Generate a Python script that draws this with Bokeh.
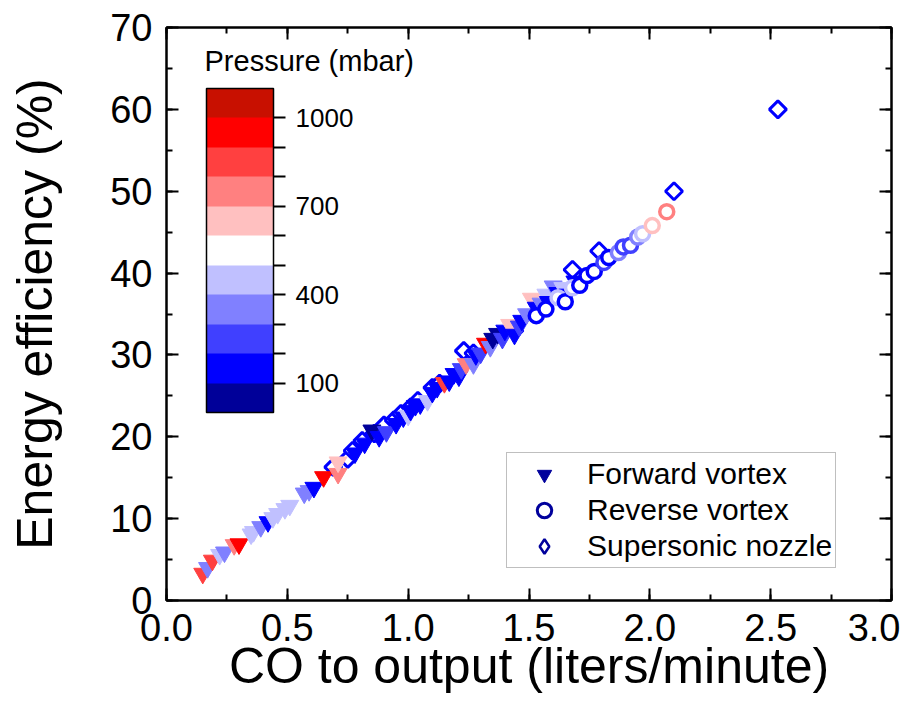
import math
from bokeh.plotting import figure
from bokeh.models import (ColumnDataSource, LinearColorMapper, ColorBar, Range1d,
                          SingleIntervalTicker, FixedTicker, LinearAxis, Legend, LegendItem,
                          NumeralTickFormatter, CustomJSTickFormatter, Label)
from bokeh.transform import transform
from bokeh.embed import file_html
from bokeh.resources import INLINE

# ---------------- data ----------------
fwd_x = [0.15, 0.17, 0.19, 0.22, 0.24, 0.28, 0.30, 0.35, 0.36, 0.39, 0.42, 0.44, 0.46, 0.49,
         0.51, 0.57, 0.59, 0.61, 0.65, 0.71, 0.71, 0.78, 0.82, 0.85, 0.88, 0.91, 0.95, 0.98,
         1.00, 1.01, 1.03, 1.05, 1.08, 1.10, 1.12, 1.15, 1.17, 1.19, 1.21, 1.22, 1.24, 1.27,
         1.28, 1.30, 1.32, 1.34, 1.35, 1.37, 1.39, 1.40, 1.42, 1.44, 1.46, 1.47, 1.49, 1.51,
         1.53, 1.55, 1.57, 1.58, 1.60, 1.62, 1.64, 1.66, 1.69]
fwd_y = [3.3, 4.0, 4.9, 5.6, 5.9, 6.8, 6.9, 8.1, 8.4, 9.0, 9.6, 10.1, 10.6, 11.2,
         11.6, 13.1, 13.4, 13.8, 15.1, 15.5, 16.9, 18.0, 19.2, 20.8, 20.0, 20.6, 21.6, 22.4,
         22.6, 23.2, 23.8, 24.0, 24.4, 25.4, 26.0, 26.6, 26.8, 27.7, 27.4, 28.3, 28.9, 28.9,
         30.0, 30.2, 31.4, 31.0, 32.0, 32.6, 32.0, 33.0, 33.7, 32.5, 33.5, 34.2, 35.0, 36.9,
         35.8, 36.3, 37.4, 36.5, 38.4, 37.6, 38.2, 37.4, 39.0]
fwd_p = [850, 350, 850, 450, 350, 750, 950, 450, 450, 350, 150, 450, 450, 450,
         450, 350, 350, 150, 950, 750, 650, 150, 150, 50, 150, 250, 150, 150,
         450, 150, 150, 150, 450, 150, 150, 850, 150, 150, 150, 250, 750, 350,
         150, 250, 950, 350, 50, 50, 250, 150, 650, 150, 250, 150, 350, 650,
         150, 350, 450, 150, 350, 150, 450, 150, 150]

rev_x = [1.53, 1.57, 1.62, 1.65, 1.68, 1.71, 1.74, 1.77, 1.81, 1.83, 1.87, 1.89, 1.92,
         1.95, 1.97, 2.01, 2.07]
rev_y = [34.8, 35.6, 37.0, 36.5, 38.2, 38.5, 39.7, 40.2, 41.3, 41.9, 42.5, 43.2, 43.4,
         44.4, 44.8, 45.8, 47.5]
rev_p = [150, 150, 450, 150, 450, 150, 150, 150, 250, 150, 350, 250, 250,
         350, 450, 650, 750]

sup_x = [0.69, 0.75, 0.77, 0.81, 0.86, 0.90, 0.94, 0.97, 1.01, 1.04, 1.10, 1.13, 1.23,
         1.27, 1.44, 1.68, 1.79, 2.10, 2.53]
sup_y = [16.3, 17.3, 18.3, 19.5, 20.4, 21.4, 22.0, 22.8, 23.6, 24.4, 26.0, 26.5, 30.5,
         30.2, 33.0, 40.4, 42.7, 50.0, 60.0]
sup_p = [150] * len(sup_x)

palette = ["#000099", "#0000FF", "#4040FF", "#8080FF", "#C0C0FF", "#FFFFFF",
           "#FFC0C0", "#FF8080", "#FF4040", "#FF0000", "#C81000"]
cbar_ticks = [100, 400, 700, 1000]
cbar_minor = [200, 300, 500, 600, 800, 900]

FONT = "Liberation Sans"

p = figure(width=900, height=716, output_backend="svg", toolbar_location=None,
           x_range=Range1d(0, 3), y_range=Range1d(0, 70),
           min_border_left=166, min_border_right=9, min_border_top=27, min_border_bottom=116)
p.grid.visible = False
p.outline_line_color = "black"
p.outline_line_width = 2

mapper = LinearColorMapper(palette=palette, low=0, high=1100)

src_f = ColumnDataSource(dict(x=fwd_x, y=fwd_y, p=fwd_p))
src_r = ColumnDataSource(dict(x=rev_x, y=rev_y, p=rev_p))
src_s = ColumnDataSource(dict(x=sup_x, y=sup_y, p=sup_p))

p.scatter("x", "y", source=src_s, marker="square", size=12, angle=math.pi / 4,
          fill_color="white", line_color=transform("p", mapper), line_width=3)
p.scatter("x", "y", source=src_f, marker="inverted_triangle", size=18,
          fill_color=transform("p", mapper), line_color=transform("p", mapper), line_width=1)
p.scatter("x", "y", source=src_r, marker="circle", size=14, fill_color="white",
          line_color=transform("p", mapper), line_width=3.5)

# legend-only renderers (not drawn in the plot: NaN positions)
navy = "#00009C"
nan = float("nan")
lf = p.scatter(x=[nan], y=[nan], marker="inverted_triangle", size=15,
               fill_color=navy, line_color=navy)
lr = p.scatter(x=[nan], y=[nan], marker="circle", size=11, fill_color="white",
               line_color=navy, line_width=3)
ls = p.scatter(x=[nan], y=[nan], marker="diamond", size=17,
               fill_color="white", line_color=navy, line_width=2.5)
legend = Legend(items=[LegendItem(label="Forward vortex", renderers=[lf]),
                       LegendItem(label="Reverse vortex", renderers=[lr]),
                       LegendItem(label="Supersonic nozzle", renderers=[ls])],
                location=(340, 32), label_text_font=FONT, label_text_font_size="30px",
                label_text_color="black",
                label_height=36, glyph_height=36, glyph_width=68, label_standoff=9,
                spacing=0, padding=3, margin=0,
                border_line_color="#7f7f7f", border_line_width=1.5, background_fill_alpha=1)
p.add_layout(legend, "center")

# axes
xt = SingleIntervalTicker(interval=0.5, num_minor_ticks=2)
yt = SingleIntervalTicker(interval=10, num_minor_ticks=2)
xb = p.below[0]
yl = p.left[0]
xb.ticker = xt
yl.ticker = yt
xb.formatter = NumeralTickFormatter(format="0.0")
xb.axis_label = "CO to output (liters/minute)"
yl.axis_label = "Energy efficiency (%)"

top = LinearAxis(ticker=xt, formatter=CustomJSTickFormatter(code="return ''"))
right = LinearAxis(ticker=yt, formatter=CustomJSTickFormatter(code="return ''"))
p.add_layout(top, "above")
p.add_layout(right, "right")

for ax in [xb, yl, top, right]:
    ax.axis_line_width = 2
    ax.major_tick_line_width = 2
    ax.minor_tick_line_width = 2
    ax.major_tick_in = 12
    ax.major_tick_out = 0
    ax.minor_tick_in = 6
    ax.minor_tick_out = 0
    ax.major_label_text_font = FONT
    ax.major_label_text_font_size = "38px"
    ax.major_label_text_color = "black"
    ax.axis_label_text_font = FONT
    ax.axis_label_text_font_size = "50px"
    ax.axis_label_text_font_style = "normal"
    ax.axis_label_text_color = "black"
for ax in [top, right]:
    ax.major_label_standoff = 0
xb.major_label_standoff = 13
xb.axis_label_standoff = -6
yl.major_label_standoff = 14
yl.axis_label_standoff = 44

cbar = ColorBar(color_mapper=mapper, location=(30, 178), width=67, height=324,
                ticker=FixedTicker(ticks=cbar_ticks, minor_ticks=cbar_minor),
                major_label_text_font=FONT, major_label_text_font_size="26px",
                major_label_text_color="black",
                label_standoff=10,
                major_tick_in=0, major_tick_out=12, major_tick_line_color="black",
                major_tick_line_width=2,
                minor_tick_in=0, minor_tick_out=12, minor_tick_line_color="black",
                minor_tick_line_width=2,
                bar_line_color="black", bar_line_width=1.5,
                padding=10, background_fill_alpha=0)
p.add_layout(cbar, "center")

p.add_layout(Label(x=38, y=540, x_units="screen", y_units="screen", text="Pressure (mbar)",
                   text_font=FONT, text_font_size="29px", text_baseline="middle",
                   text_color="black"))

open("out.html", "w").write(file_html(p, INLINE))
